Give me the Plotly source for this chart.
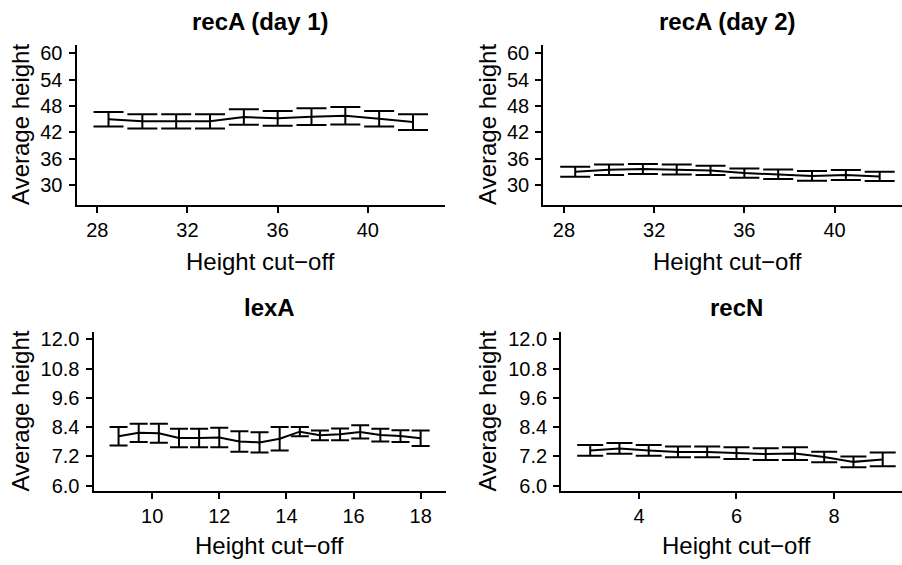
import plotly.graph_objects as go

W, H = 902, 565

# ---------------- data ----------------
cut_recA1 = [28.5, 30, 31.5, 33, 34.5, 36, 37.5, 39, 40.5, 42]
mean_recA1 = [44.99, 44.5, 44.5, 44.5, 45.48, 45.18, 45.55, 45.78, 45.1, 44.32]
se_recA1 = [1.65, 1.61, 1.61, 1.61, 1.76, 1.69, 1.91, 1.99, 1.76, 1.8]

cut_recA2 = [28.5, 30, 31.5, 33, 34.5, 36, 37.5, 39, 40.5, 42]
mean_recA2 = [33.0, 33.46, 33.64, 33.53, 33.31, 32.71, 32.45, 32.07, 32.26, 31.95]
se_recA2 = [1.13, 1.2, 1.16, 1.12, 1.05, 1.05, 1.09, 1.09, 1.13, 1.05]

cut_lexA = [9.0, 9.6, 10.2, 10.8, 11.4, 12.0, 12.6, 13.2, 13.8, 14.4, 15.0, 15.6, 16.2, 16.8, 17.4, 18.0]
mean_lexA = [8.02, 8.16, 8.14, 7.95, 7.95, 7.97, 7.81, 7.77, 7.92, 8.21, 8.06, 8.1, 8.2, 8.07, 8.03, 7.94]
se_lexA = [0.38, 0.37, 0.39, 0.38, 0.38, 0.40, 0.42, 0.42, 0.48, 0.19, 0.20, 0.24, 0.27, 0.26, 0.24, 0.32]

cut_recN = [3.0, 3.6, 4.2, 4.8, 5.4, 6.0, 6.6, 7.2, 7.8, 8.4, 9.0]
mean_recN = [7.44, 7.52, 7.44, 7.38, 7.38, 7.33, 7.29, 7.31, 7.17, 6.97, 7.07]
se_recN = [0.22, 0.22, 0.22, 0.22, 0.22, 0.24, 0.24, 0.26, 0.22, 0.22, 0.28]

titles = ["recA (day 1)", "recA (day 2)", "lexA", "recN"]
xticks_recA = [28, 32, 36, 40]
xticks_lexA = [10, 12, 14, 16, 18]
xticks_recN = [4, 6, 8]
yticks_recA = [30, 36, 42, 48, 54, 60]
yticks_small = [6.0, 7.2, 8.4, 9.6, 10.8, 12.0]

x_title = "Height cut\u2212off"
y_title = "Average height"

# ---------------- layout (pixel geometry) ----------------
panels = [
    dict(x=cut_recA1, y=mean_recA1, e=se_recA1, title=titles[0],
         px=(76.5, 445.0), full=368.5, py=(41.7, 204.0), xr=[27.08, 43.42], yr=[25.5, 61.87],
         xt=xticks_recA, yt=yticks_recA, yfmt="d", cap=15),
    dict(x=cut_recA2, y=mean_recA2, e=se_recA2, title=titles[1],
         px=(543.2, 902.0), full=368.5, py=(41.7, 204.0), xr=[27.08, 42.99], yr=[25.5, 61.87],
         xt=xticks_recA, yt=yticks_recA, yfmt="d", cap=15),
    dict(x=cut_lexA, y=mean_lexA, e=se_lexA, title=titles[2],
         px=(93.5, 445.7), full=352.2, py=(333.3, 495.0), xr=[8.253, 18.747], yr=[5.77, 12.3],
         xt=xticks_lexA, yt=yticks_small, yfmt=".1f", cap=9),
    dict(x=cut_recN, y=mean_recN, e=se_recN, title=titles[3],
         px=(561.1, 902.0), full=350.8, py=(333.3, 495.0), xr=[2.403, 9.396], yr=[5.77, 12.3],
         xt=xticks_recN, yt=yticks_small, yfmt=".1f", cap=13),
]

FONT = "Liberation Sans, Arial, sans-serif"
fig = go.Figure()
annotations = []
for i, p in enumerate(panels, start=1):
    xa = "x" if i == 1 else f"x{i}"
    ya = "y" if i == 1 else f"y{i}"
    fig.add_trace(go.Scatter(
        x=p["x"], y=p["y"], mode="lines", xaxis=xa, yaxis=ya,
        line=dict(color="black", width=2),
        error_y=dict(type="data", array=p["e"], visible=True,
                     color="black", thickness=2, width=p["cap"]),
        showlegend=False, hoverinfo="skip"))
    axis_common = dict(showline=True, linecolor="black", linewidth=2,
                       ticks="outside", ticklen=6, tickwidth=2, tickcolor="black",
                       showgrid=False, zeroline=False,
                       tickfont=dict(family=FONT, size=20, color="black"))
    x0, x1 = p["px"]
    y0, y1 = p["py"]
    fig.update_layout(**{
        ("xaxis" if i == 1 else f"xaxis{i}"): dict(
            domain=[x0 / W, x1 / W], range=p["xr"], anchor=ya,
            tickvals=p["xt"], ticklabelstandoff=0, **axis_common),
        ("yaxis" if i == 1 else f"yaxis{i}"): dict(
            domain=[1 - y1 / H, 1 - y0 / H], range=p["yr"], anchor=xa,
            tickvals=p["yt"], tickformat=p["yfmt"], ticklabelstandoff=2, **axis_common),
    })
    cx = x0 + p["full"] / 2
    top = 18 if i <= 2 else 308
    xt_y = 262 if i <= 2 else 550
    ylab_x = 21 if i % 2 == 1 else 488
    annotations.append(dict(text=f"<b>{p['title']}</b>", x=cx / W, y=1 - top / H,
                            xref="paper", yref="paper", showarrow=False,
                            xanchor="center", yanchor="middle",
                            font=dict(family=FONT, size=24, color="black")))
    annotations.append(dict(text=x_title, x=cx / W, y=1 - xt_y / H,
                            xref="paper", yref="paper", showarrow=False,
                            xanchor="center", yanchor="middle",
                            font=dict(family=FONT, size=24, color="black")))
    annotations.append(dict(text=y_title, x=ylab_x / W, y=1 - (y0 + y1) / 2 / H,
                            xref="paper", yref="paper", showarrow=False, textangle=-90,
                            xanchor="center", yanchor="middle",
                            font=dict(family=FONT, size=24, color="black")))

fig.update_layout(width=W, height=H, margin=dict(l=0, r=0, t=0, b=0),
                  paper_bgcolor="white", plot_bgcolor="white",
                  annotations=annotations, showlegend=False)
fig.write_html("out.html")
